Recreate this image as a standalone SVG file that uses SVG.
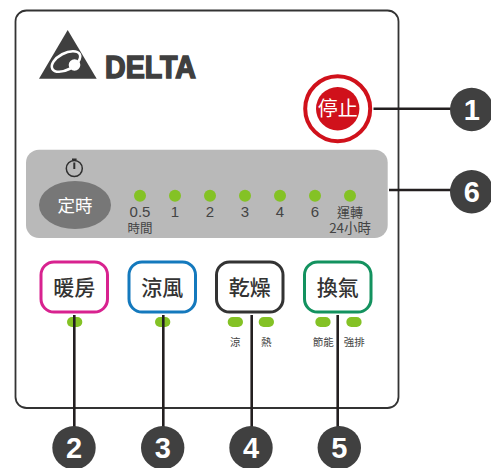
<svg xmlns="http://www.w3.org/2000/svg" width="491" height="468" viewBox="0 0 491 468">
<style>
text{font-family:"Liberation Sans","Noto Sans CJK TC",sans-serif;text-anchor:middle;fill:#3a3a3a}
.cjk{font-family:"Noto Sans CJK TC",sans-serif}
.btn{fill:#fff;stroke-width:3}
.bl{font-size:21px;font-weight:500;font-family:"Noto Sans CJK TC",sans-serif;fill:#333}
.led{fill:#84c225}
.lab{font-size:15px;fill:#444}
.sub{font-size:12.5px;font-family:"Noto Sans CJK TC",sans-serif;fill:#444}
.sm{font-size:10.5px;font-family:"Noto Sans CJK TC",sans-serif;fill:#444}
.badge{fill:#404040}
.num{font-size:29px;font-weight:bold;fill:#fff}
.conn{stroke:#231f20;stroke-width:2.6;fill:none}
</style>
<rect id="panel" x="15.5" y="10.5" width="383" height="397.5" rx="11" fill="#fff" stroke="#333" stroke-width="1.8"/>
<g id="logo">
<path d="M67.7 30 L96.7 78.7 L39 78.7 Z" fill="#3f3f3f"/>
<ellipse cx="66" cy="61.5" rx="15.5" ry="8.2" transform="rotate(-28 66 61.5)" fill="none" stroke="#fff" stroke-width="2.6"/>
<circle cx="74.5" cy="65" r="5.8" fill="#fff"/>
<text x="150.5" y="78" font-size="31.5" font-weight="bold" textLength="91" lengthAdjust="spacingAndGlyphs" style="fill:#3f3f3f;stroke:#3f3f3f;stroke-width:1.6">DELTA</text>
</g>
<g id="node-stop">
<circle cx="337.7" cy="108.7" r="32.5" fill="#fff" stroke="#d0111b" stroke-width="4"/>
<circle cx="337.7" cy="108.7" r="21.7" fill="#d0111b"/>
<text class="cjk" x="337.7" y="116" font-size="20" style="fill:#fff">停止</text>
</g>
<g id="node-timer-panel">
<rect x="26" y="149.7" width="361.7" height="88.3" rx="13" fill="#b9b9b9"/>
<g id="timer-icon" fill="none" stroke="#2f2f2f">
<circle cx="74.3" cy="168.5" r="8" stroke-width="1.5"/>
<path d="M72 159.5 H76.6" stroke-width="2"/>
<path d="M74.3 162.5 V169" stroke-width="2"/>
</g>
<ellipse cx="75" cy="205" rx="36" ry="24" fill="#777"/>
<text class="cjk" x="75" y="211.5" font-size="17.5" style="fill:#fff">定時</text>
<circle class="led" cx="140" cy="195.7" r="6"/>
<circle class="led" cx="175" cy="195.7" r="6"/>
<circle class="led" cx="210" cy="195.7" r="6"/>
<circle class="led" cx="245" cy="195.7" r="6"/>
<circle class="led" cx="280" cy="195.7" r="6"/>
<circle class="led" cx="315" cy="195.7" r="6"/>
<circle class="led" cx="350" cy="195.7" r="6"/>
<text class="lab" x="140" y="217">0.5</text>
<text class="lab" x="175" y="217">1</text>
<text class="lab" x="210" y="217">2</text>
<text class="lab" x="245" y="217">3</text>
<text class="lab" x="280" y="217">4</text>
<text class="lab" x="315" y="217">6</text>
<text class="sub" x="140" y="232.5">時間</text>
<text class="sub" x="350" y="216.5" style="font-size:13px">運轉</text>
<text class="sub" x="350" y="233" style="font-size:13.4px">24小時</text>
</g>
<g id="node-heat">
<rect class="btn" x="41" y="262" width="66.5" height="50" rx="13" stroke="#d8228f"/>
<text class="bl" x="74.3" y="294.5">暖房</text>
<rect class="led" x="67" y="317" width="15.3" height="10" rx="5"/>
</g>
<g id="node-cool">
<rect class="btn" x="129" y="262" width="66.5" height="50" rx="13" stroke="#1479bd"/>
<text class="bl" x="162.3" y="294.5">涼風</text>
<rect class="led" x="155" y="317" width="15.3" height="10" rx="5"/>
</g>
<g id="node-dry">
<rect class="btn" x="216.5" y="262" width="66.5" height="50" rx="13" stroke="#333"/>
<text class="bl" x="249.7" y="294.5">乾燥</text>
<rect class="led" x="227.7" y="317" width="15.3" height="10" rx="5"/>
<rect class="led" x="258.7" y="317" width="15.3" height="10" rx="5"/>
<text class="sm" x="235.3" y="346">涼</text>
<text class="sm" x="266.3" y="346">熱</text>
</g>
<g id="node-vent">
<rect class="btn" x="304.5" y="262" width="66.5" height="50" rx="13" stroke="#13925f"/>
<text class="bl" x="337.7" y="294.5">換氣</text>
<rect class="led" x="315.3" y="317" width="15.3" height="10" rx="5"/>
<rect class="led" x="346.3" y="317" width="15.3" height="10" rx="5"/>
<text class="sm" x="323.3" y="346">節能</text>
<text class="sm" x="354.3" y="346">強排</text>
</g>
<g id="connectors">
<path class="conn" d="M373.5 108.7 H452"/>
<path class="conn" d="M389 190 H452"/>
<path class="conn" d="M74.3 315 V428"/>
<path class="conn" d="M163.3 315 V428"/>
<path class="conn" d="M251.7 315 V428"/>
<path class="conn" d="M337.7 315 V428"/>
</g>
<g id="badge-1"><circle class="badge" cx="471.7" cy="109.5" r="21.7"/><text class="num" x="471.7" y="120">1</text></g>
<g id="badge-6"><circle class="badge" cx="471.7" cy="191.7" r="21.7"/><text class="num" x="471.7" y="202">6</text></g>
<g id="badge-2"><circle class="badge" cx="74" cy="447.7" r="21.7"/><text class="num" x="74" y="458">2</text></g>
<g id="badge-3"><circle class="badge" cx="162.7" cy="447.7" r="21.7"/><text class="num" x="162.7" y="458">3</text></g>
<g id="badge-4"><circle class="badge" cx="251" cy="447.7" r="21.7"/><text class="num" x="251" y="458">4</text></g>
<g id="badge-5"><circle class="badge" cx="339.3" cy="447.7" r="21.7"/><text class="num" x="339.3" y="458">5</text></g>
</svg>
